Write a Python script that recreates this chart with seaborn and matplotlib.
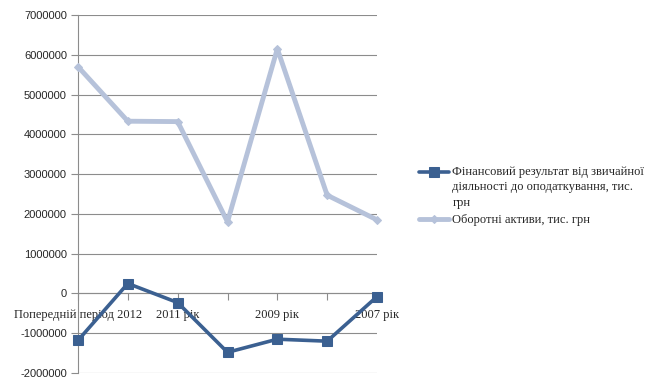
import matplotlib
matplotlib.use("Agg")
import matplotlib.pyplot as plt
import numpy as np
import pandas as pd
import seaborn as sns

categories = ["Попередній період 2012", "2012 рік", "2011 рік", "2010 рік",
              "2009 рік", "2008 рік", "2007 рік"]
shown_labels = ["Попередній період 2012", "", "2011 рік", "", "2009 рік", "", "2007 рік"]
fin_result = [-1180000, 250000, -230000, -1480000, -1150000, -1200000, -80000]
current_assets = [5700000, 4330000, 4320000, 1800000, 6150000, 2470000, 1850000]

name_fin = "Фінансовий результат від звичайної\nдіяльності до оподаткування, тис.\nгрн"
name_assets = "Оборотні активи, тис. грн"

df = pd.DataFrame({
    "idx": list(range(len(categories))) * 2,
    "value": fin_result + current_assets,
    "series": [name_fin] * len(categories) + [name_assets] * len(categories),
})

sns.set_style("white")
fig = plt.figure(figsize=(6.56, 3.88), dpi=100)
ax = fig.add_axes([78 / 656, 1 - 373 / 388, (377 - 78) / 656, (373 - 15) / 388])

dark = "#3B6091"
light = "#B6C2DA"
sns.lineplot(data=df[df.series == name_fin], x="idx", y="value", ax=ax,
             color=dark, lw=2.6, marker="s", markersize=6.5, markeredgecolor=dark,
             label=name_fin, clip_on=False, zorder=4)
sns.lineplot(data=df[df.series == name_assets], x="idx", y="value", ax=ax,
             color=light, lw=3.5, marker="D", markersize=4, markeredgecolor=light,
             label=name_assets, clip_on=False, zorder=3)

# spine position first: it resets the tick labels
ax.spines["bottom"].set_position(("data", 0))
for s in ["top", "right"]:
    ax.spines[s].set_visible(False)
ax.spines["left"].set_color("#8C8C8C")
ax.spines["bottom"].set_color("#8C8C8C")

ax.set_xlim(0, 6)
ax.set_ylim(-2000000, 7000000)
ax.set_yticks(range(-2000000, 7000001, 1000000))
ax.set_yticklabels([str(v) for v in range(-2000000, 7000001, 1000000)],
                   fontfamily="Liberation Sans", fontsize=8)
ax.yaxis.grid(True, color="#8C8C8C", lw=0.8)
ax.set_axisbelow(True)

ax.set_xticks(range(len(categories)))
ax.set_xticklabels(shown_labels, fontfamily="Liberation Serif", fontsize=9)
ax.tick_params(axis="x", direction="out", length=5, color="#8C8C8C", pad=6, bottom=True)
ax.tick_params(axis="y", direction="out", length=5, color="#8C8C8C", pad=3, left=True)
ax.set_xlabel("")
ax.set_ylabel("")

leg = ax.legend(loc="upper left", bbox_to_anchor=(408 / 656, 1 - 155 / 388),
                bbox_transform=fig.transFigure, frameon=False,
                prop={"family": "Liberation Serif", "size": 9},
                handlelength=2.4, handletextpad=0.25, labelspacing=0.45)
for t in leg.get_texts():
    t.set_linespacing(1.35)
# put the first handle next to the first line of its wrapped label
h0 = leg.legend_handles[0]
h0.set_ydata(np.asarray(h0.get_ydata()) + 11.5)

fig.savefig("out.png", dpi=100)
